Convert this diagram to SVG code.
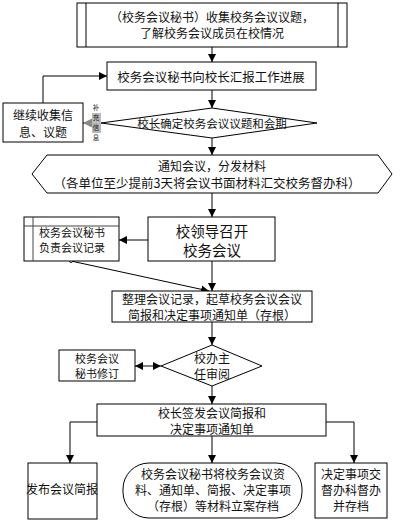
<svg xmlns="http://www.w3.org/2000/svg" width="412" height="520" viewBox="0 0 412 520">
<style>
.s{fill:#fff;stroke:#000;stroke-width:1}
.t{font-family:"Noto Sans CJK SC","Liberation Sans",sans-serif;fill:#111;text-anchor:middle;dominant-baseline:central}
.c{fill:none;stroke:#000;stroke-width:1}
</style>
<defs>
<marker id="a" viewBox="0 0 10 10" refX="10" refY="5" markerWidth="8" markerHeight="8" markerUnits="userSpaceOnUse" orient="auto-start-reverse"><path d="M0,0L10,5L0,10z" fill="#000"/></marker>
<marker id="g" viewBox="0 0 10 10" refX="10" refY="5" markerWidth="9" markerHeight="9" markerUnits="userSpaceOnUse" orient="auto"><path d="M0,0L10,5L0,10z" fill="#888"/></marker>
</defs>
<rect width="412" height="520" fill="#fff"/>
<g id="edges">
<path class="c" d="M212,47V62" marker-end="url(#a)"/>
<path class="c" d="M212,90V108" marker-end="url(#a)"/>
<path class="c" d="M101,123H83" marker-end="url(#g)"/>
<path class="c" d="M43,103V76H107" marker-end="url(#a)"/>
<path class="c" d="M212,138V155" marker-end="url(#a)"/>
<path class="c" d="M212,193V217" marker-end="url(#a)"/>
<path class="c" d="M148,240H119" marker-end="url(#a)"/>
<path class="c" d="M71,261L209,291" marker-end="url(#a)"/>
<circle cx="71" cy="261" r="1.6" fill="#fff" stroke="#000" stroke-width="0.8"/>
<path class="c" d="M212,261V291" marker-end="url(#a)"/>
<path class="c" d="M212,322V345" marker-end="url(#a)"/>
<path class="c" d="M135,366H161" marker-start="url(#a)" marker-end="url(#a)"/>
<path class="c" d="M212,386V404" marker-end="url(#a)"/>
<path class="c" d="M97,422H70V463" marker-end="url(#a)"/>
<path class="c" d="M212,436V463" marker-end="url(#a)"/>
<path class="c" d="M326,422H354V463" marker-end="url(#a)"/>
<rect x="92" y="113" width="9" height="20" fill="#bbb"/>
<text class="t" x="96" y="107" font-size="6.5">补</text>
<text class="t" x="96" y="117" font-size="6.5">充</text>
<text class="t" x="96" y="127" font-size="6.5">信</text>
<text class="t" x="96" y="137" font-size="6.5">息</text>
</g>
<g id="n1">
<rect class="s" x="77" y="3" width="270" height="44"/>
<path class="c" d="M86,3V47M338,3V47"/>
<text class="t" x="212" y="16" font-size="12">（校务会议秘书）收集校务会议议题，</text>
<text class="t" x="212" y="32" font-size="12">了解校务会议成员在校情况</text>
</g>
<g id="n2">
<rect class="s" x="107" y="62" width="209" height="28"/>
<text class="t" x="211" y="76" font-size="12.5">校务会议秘书向校长汇报工作进展</text>
</g>
<g id="n3">
<path class="s" d="M212,108L317,123L212,138L101,123z"/>
<text class="t" x="212" y="123" font-size="11.5">校长确定校务会议议题和会期</text>
</g>
<g id="n4">
<rect class="s" x="3" y="103" width="80" height="39"/>
<text class="t" x="43" y="114" font-size="12">继续收集信</text>
<text class="t" x="43" y="131" font-size="12">息、议题</text>
</g>
<g id="n5">
<path class="s" d="M32,174L47,155H378L392,174L378,193H47z"/>
<text class="t" x="212" y="165" font-size="12">通知会议，分发材料</text>
<text class="t" x="207" y="182" font-size="12.5">（各单位至少提前3天将会议书面材料汇交校务督办科）</text>
</g>
<g id="n6">
<rect class="s" x="148" y="217" width="127" height="44"/>
<text class="t" x="212" y="230" font-size="14.5">校领导召开</text>
<text class="t" x="212" y="249" font-size="14.5">校务会议</text>
</g>
<g id="n7">
<rect class="s" x="24" y="217" width="95" height="44" stroke="#444"/>
<path d="M33,217V261M24,226H119" fill="none" stroke="#444"/>
<text class="t" x="72" y="232" font-size="11" fill="#333">校务会议秘书</text>
<text class="t" x="72" y="247" font-size="11" fill="#333">负责会议记录</text>
</g>
<g id="n8">
<rect class="s" x="112" y="291" width="200" height="31"/>
<text class="t" x="212" y="298" font-size="12">整理会议记录，起草校务会议会议</text>
<text class="t" x="212" y="314" font-size="12">简报和决定事项通知单（存根）</text>
</g>
<g id="n9">
<path class="s" d="M212,345L262,366L212,386L161,366z"/>
<text class="t" x="212" y="357" font-size="12">校办主</text>
<text class="t" x="212" y="373" font-size="12">任审阅</text>
</g>
<g id="n10">
<rect class="s" x="59" y="350" width="76" height="31"/>
<text class="t" x="97" y="358" font-size="11">校务会议</text>
<text class="t" x="97" y="373" font-size="11">秘书修订</text>
</g>
<g id="n11">
<rect class="s" x="97" y="404" width="229" height="32"/>
<text class="t" x="212" y="412" font-size="12">校长签发会议简报和</text>
<text class="t" x="212" y="428" font-size="12">决定事项通知单</text>
</g>
<g id="n12">
<rect class="s" x="28" y="463" width="69" height="56"/>
<text class="t" x="62" y="488" font-size="12">发布会议简报</text>
</g>
<g id="n13">
<rect class="s" x="123" y="463" width="179" height="55" rx="26" ry="26"/>
<text class="t" x="213" y="473" font-size="12">校务会议秘书将校务会议资</text>
<text class="t" x="213" y="489" font-size="12">料、通知单、简报、决定事项</text>
<text class="t" x="213" y="505" font-size="12">（存根）等材料立案存档</text>
</g>
<g id="n14">
<rect class="s" x="315" y="463" width="72" height="55"/>
<text class="t" x="351" y="473" font-size="12">决定事项交</text>
<text class="t" x="351" y="489" font-size="12">督办科督办</text>
<text class="t" x="351" y="505" font-size="12">并存档</text>
</g>
</svg>
